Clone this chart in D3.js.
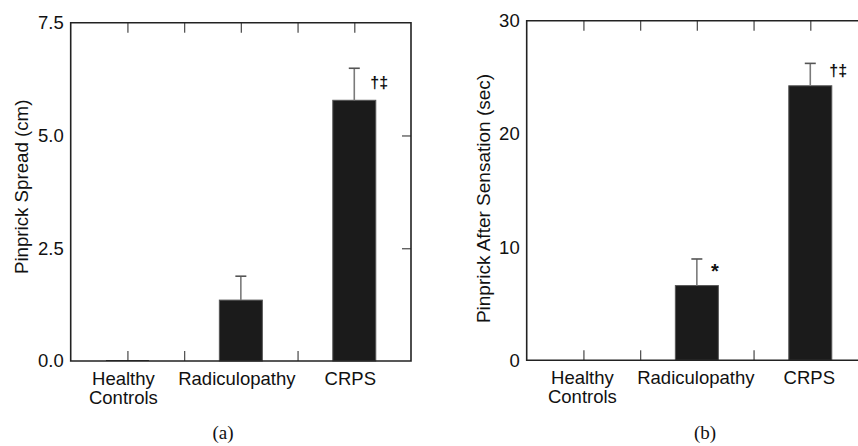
<!doctype html>
<html>
<head>
    <meta charset="UTF-8">
    <title>Pinprick panels</title>
    <script src="https://d3js.org/d3.v7.min.js"></script>
    <style>
        body { margin: 0; background: #fff; }
        svg { display: block; }
        .lbl { font-family: "Liberation Sans", Arial, sans-serif; fill: #111; }
    </style>
</head>
<body>
<svg id="chart" width="858" height="446"></svg>
<script>
    // groups on the x axis
    var groups = ["Healthy Controls", "Radiculopathy", "CRPS"];

    // panel (a): pinprick spread, cm
    var spreadMean = [0.02, 1.35, 5.78];
    var spreadErr  = [0, 0.53, 0.71];
    var spreadTicks = [0, 2.5, 5.0, 7.5];
    var spreadMarks = ["", "", "†‡"];

    // panel (b): pinprick after sensation, sec
    var afterMean = [0, 6.6, 24.25];
    var afterErr  = [0, 2.35, 1.98];
    var afterTicks = [0, 10, 20, 30];
    var afterMarks = ["", "*", "†‡"];

    var svg = d3.select("#chart");

    function drawPanel(opt) {
        var g = svg.append("g");

        var x = d3.scaleBand().domain(groups).range([opt.left, opt.right]);
        var xt = d3.scaleLinear().domain([0, 3]).range([opt.left, opt.right]);
        var y = d3.scaleLinear().domain([0, opt.max]).range([opt.bottom, opt.top]);
        var barW = 43;

        // inward ticks: group centres and separators
        var xtv = [0.5, 1, 1.5, 2, 2.5];
        g.append("g")
            .attr("transform", "translate(0," + opt.top + ")")
            .call(d3.axisBottom(xt).tickValues(xtv).tickSize(10).tickFormat(""))
            .call(s => s.select(".domain").remove())
            .selectAll("line").attr("stroke", "#555").attr("stroke-width", 1.3);
        g.append("g")
            .attr("transform", "translate(0," + opt.bottom + ")")
            .call(d3.axisTop(xt).tickValues(xtv).tickSize(10).tickFormat(""))
            .call(s => s.select(".domain").remove())
            .selectAll("line").attr("stroke", "#555").attr("stroke-width", 1.3);
        g.append("g")
            .attr("transform", "translate(" + opt.right + ",0)")
            .call(d3.axisLeft(y).tickValues(opt.ticks.slice(1, -1)).tickSize(9).tickFormat(""))
            .call(s => s.select(".domain").remove())
            .selectAll("line").attr("stroke", "#555").attr("stroke-width", 1.3);

        // y tick labels
        var ya = g.append("g")
            .attr("transform", "translate(" + opt.left + ",0)")
            .call(d3.axisLeft(y).tickValues(opt.ticks).tickSize(0).tickPadding(7).tickFormat(opt.fmt));
        ya.select(".domain").remove();
        ya.selectAll("text")
            .attr("class", "lbl")
            .attr("font-size", 18.5)
            .attr("fill", "#111");

        // bars
        g.selectAll("rect.bar")
            .data(opt.mean)
            .enter().append("rect")
                .attr("class", "bar")
                .attr("x", (d, i) => x(groups[i]) + x.bandwidth() / 2 - barW / 2)
                .attr("width", barW)
                .attr("y", d => y(d))
                .attr("height", d => opt.bottom - y(d))
                .attr("fill", "#1b1b1b")
                .attr("stroke", d => d > 0.1 ? "#555" : "none")
                .attr("stroke-width", 1);

        // error bars (upper only)
        opt.mean.forEach(function(m, i) {
            if (!opt.err[i]) return;
            var cx = x(groups[i]) + x.bandwidth() / 2;
            g.append("line")
                .attr("x1", cx).attr("x2", cx)
                .attr("y1", y(m)).attr("y2", y(m + opt.err[i]))
                .attr("stroke", "#7a7a7a").attr("stroke-width", 1.6);
            g.append("line")
                .attr("x1", cx - 5.5).attr("x2", cx + 5.5)
                .attr("y1", y(m + opt.err[i])).attr("y2", y(m + opt.err[i]))
                .attr("stroke", "#555").attr("stroke-width", 1.6);
        });

        // significance marks
        opt.mean.forEach(function(m, i) {
            if (!opt.marks[i]) return;
            var cx = x(groups[i]) + x.bandwidth() / 2;
            var star = opt.marks[i] == "*";
            g.append("text")
                .attr("class", "lbl")
                .attr("x", cx + (star ? 18 : opt.markDx))
                .attr("y", y(m + opt.err[i]) + (star ? 19 : opt.markDy))
                .attr("font-size", star ? 20 : 16)
                .attr("font-weight", "bold")
                .attr("text-anchor", star ? "middle" : "start")
                .text(opt.marks[i]);
        });

        // frame
        g.append("path")
            .attr("d", "M" + opt.left + "," + opt.top + "H" + opt.right + "V" + opt.bottom + "H" + opt.left + "Z")
            .attr("fill", "none")
            .attr("stroke", "#222")
            .attr("stroke-width", 1.6);

        // group labels
        groups.forEach(function(name, i) {
            var cx = x(name) + x.bandwidth() / 2 + opt.labelShift;
            var lines = name == "Healthy Controls" ? ["Healthy", "Controls"] : [name];
            var t = g.append("text")
                .attr("class", "lbl")
                .attr("font-size", 18.5)
                .attr("text-anchor", "middle");
            lines.forEach(function(l, j) {
                t.append("tspan").attr("x", cx).attr("y", opt.bottom + 24 + j * 19).text(l);
            });
        });

        // y axis title
        g.append("text")
            .attr("class", "lbl")
            .attr("font-size", opt.titleSize)
            .attr("text-anchor", "middle")
            .attr("transform", "translate(" + opt.titleX + "," + ((opt.top + opt.bottom) / 2 + opt.titleDy) + ") rotate(-90)")
            .attr("dy", "0.35em")
            .text(opt.title);

        // panel letter
        g.append("text")
            .attr("x", opt.letterX)
            .attr("y", 439)
            .attr("font-family", "Liberation Serif, Times New Roman, serif")
            .attr("font-size", 19)
            .attr("fill", "#111")
            .attr("text-anchor", "middle")
            .text(opt.letter);
    }

    drawPanel({
        left: 70.7, right: 411, top: 22.7, bottom: 361,
        max: 7.5, ticks: spreadTicks, fmt: d3.format(".1f"),
        mean: spreadMean, err: spreadErr, marks: spreadMarks,
        markDx: 16, markDy: 20,
        labelShift: -4,
        title: "Pinprick Spread (cm)", titleX: 21, titleDy: -5, titleSize: 18.7,
        letter: "(a)", letterX: 223
    });

    drawPanel({
        left: 526.7, right: 867, top: 20.7, bottom: 360.3,
        max: 30, ticks: afterTicks, fmt: d3.format("d"),
        mean: afterMean, err: afterErr, marks: afterMarks,
        markDx: 19, markDy: 13,
        labelShift: -1,
        title: "Pinprick After Sensation (sec)", titleX: 483, titleDy: 8, titleSize: 19,
        letter: "(b)", letterX: 705
    });
</script>
</body>
</html>
